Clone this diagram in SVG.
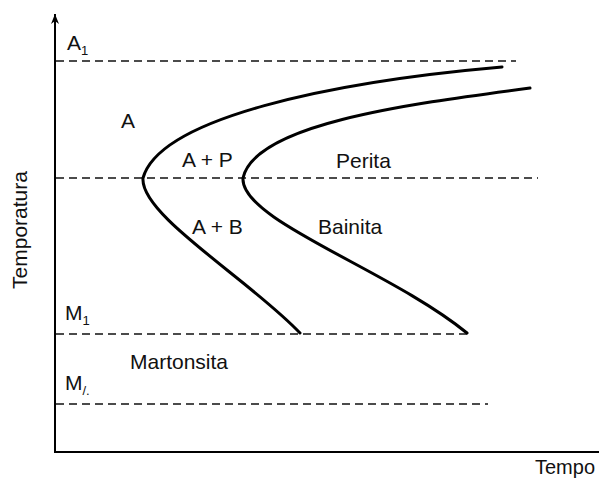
<svg xmlns="http://www.w3.org/2000/svg" width="599" height="479" viewBox="0 0 599 479">
<style>
text{font-family:"Liberation Sans",Arial,sans-serif;font-size:21px;fill:#111}
.sub{font-size:13px}
.dash{stroke:#111;stroke-width:1.6;stroke-dasharray:8 5;fill:none}
.curve{stroke:#000;stroke-width:3;fill:none;stroke-linecap:round}
.axis{stroke:#000;stroke-width:2;fill:none}
</style>
<defs><marker id="arr" markerWidth="12" markerHeight="12" refX="10" refY="5" orient="auto" markerUnits="userSpaceOnUse"><path d="M0,1 L10,5 L0,9 L3,5 Z" fill="#000"/></marker></defs>
<rect width="599" height="479" fill="#fff"/>
<g id="connectors">
<line class="axis" x1="55" y1="452" x2="55" y2="14" marker-end="url(#arr)"/>
<line class="axis" x1="54" y1="452" x2="599" y2="452"/>
<line class="dash" x1="56" y1="61" x2="516" y2="61"/>
<line class="dash" x1="56" y1="178" x2="538" y2="178"/>
<line class="dash" x1="56" y1="334" x2="470" y2="334"/>
<line class="dash" x1="56" y1="404" x2="488" y2="404"/>
<path class="curve" d="M502,67 C330,82 160,118 143,178 C140,215 250,280 300,333"/>
<path class="curve" d="M530,88 C400,105 255,125 243,178 C240,220 390,270 467,333"/>
</g>
<g id="labels">
<text x="67" y="50">A<tspan class="sub" dy="5">1</tspan></text>
<text x="121" y="128">A</text>
<text x="182" y="167">A + P</text>
<text x="336" y="168">Perita</text>
<text x="192" y="234">A + B</text>
<text x="318" y="234">Bainita</text>
<text x="65" y="320">M<tspan class="sub" dy="5">1</tspan></text>
<text x="130" y="369">Martonsita</text>
<text x="65" y="390">M<tspan class="sub" dy="5">/.</tspan></text>
<text x="595" y="474" text-anchor="end" style="font-size:20px">Tempo</text>
<text transform="translate(27,230) rotate(-90)" text-anchor="middle">Temporatura</text>
</g>
</svg>
